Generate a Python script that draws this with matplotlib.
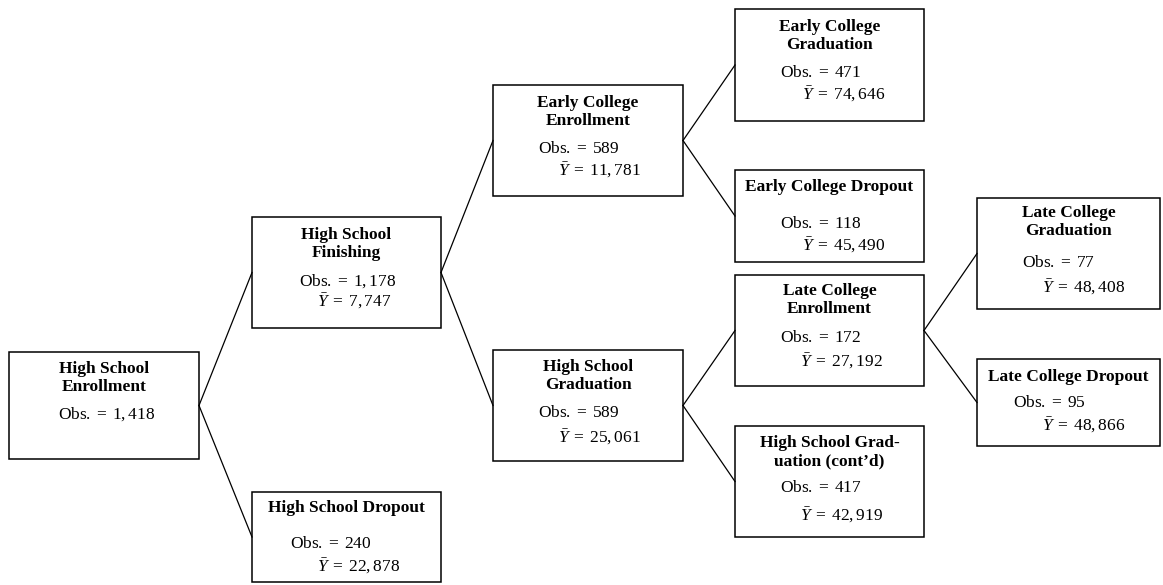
import matplotlib.pyplot as plt
from matplotlib.patches import Rectangle

plt.rcParams['font.family'] = ['Liberation Serif', 'DejaVu Serif']
plt.rcParams['mathtext.fontset'] = 'custom'
plt.rcParams['mathtext.rm'] = 'Liberation Serif'
plt.rcParams['mathtext.it'] = 'Liberation Serif:italic'
plt.rcParams['mathtext.bf'] = 'Liberation Serif:bold'

# node data
titles = ["High School\nEnrollment", "High School\nFinishing", "High School Dropout",
          "Early College\nEnrollment", "High School\nGraduation",
          "Early College\nGraduation", "Early College Dropout",
          "Late College\nEnrollment", "High School Grad-\nuation (cont\u2019d)",
          "Late College\nGraduation", "Late College Dropout"]
obs = ["1,418", "1,178", "240", "589", "589", "471", "118", "172", "417", "77", "95"]
ybar = [None, "7,747", "22,878", "11,781", "25,061", "74,646", "45,490",
        "27,192", "42,919", "48,408", "48,866"]
edges = [(0, 1), (0, 2), (1, 3), (1, 4), (3, 5), (3, 6), (4, 7), (4, 8), (7, 9), (7, 10)]

# box layout in pixels: left, top, right, bottom
boxes = [(9, 352, 199, 459), (252, 217, 441, 328), (252, 492, 441, 582),
         (493, 85, 683, 196), (493, 350, 683, 461),
         (735, 9, 924, 121), (735, 170, 924, 262),
         (735, 275, 924, 386), (735, 426, 924, 537),
         (977, 198, 1160, 309), (977, 359, 1160, 446)]
# y of title centre, obs line, ybar line; x of obs and ybar starts
title_y = [378, 244, 508, 112, 376, 36, 187, 300, 452, 222, 377]
obs_y = [414, 281, 544, 149, 413, 73, 224, 338, 488, 263, 403]
ybar_y = [None, 301, 566, 170, 437, 94, 245, 361, 515, 287, 425]
obs_x = [58, 299, 290, 538, 538, 780, 780, 780, 780, 1022, 1013]
ybar_x = [None, 317, 317, 558, 558, 802, 802, 800, 800, 1042, 1042]

fig = plt.figure(figsize=(11.63, 5.85), dpi=100)
ax = fig.add_axes([0, 0, 1, 1])
ax.set_xlim(0, 1163)
ax.set_ylim(585, 0)
ax.axis('off')

for p, c in edges:
    pl, pt, pr, pb = boxes[p]
    cl, ct, cr, cb = boxes[c]
    ax.plot([pr, cl], [(pt + pb) / 2, (ct + cb) / 2], color='black', lw=0.9)

fs = 12.5
for i in range(len(titles)):
    l, t, r, b = boxes[i]
    ax.add_patch(Rectangle((l, t), r - l, b - t, fill=False, ec='black', lw=1.1))
    ax.text((l + r) / 2, title_y[i], titles[i], ha='center', va='center',
            fontsize=fs, fontweight='bold', linespacing=1.15)
    ax.text(obs_x[i], obs_y[i], r"Obs.$\;=\;" + obs[i] + "$", ha='left', va='center',
            fontsize=fs)
    if ybar[i] is not None:
        ax.text(ybar_x[i], ybar_y[i], r"$\bar{Y}\;=\;" + ybar[i] + "$", ha='left',
                va='center', fontsize=fs)

fig.savefig('out.png', dpi=100)
